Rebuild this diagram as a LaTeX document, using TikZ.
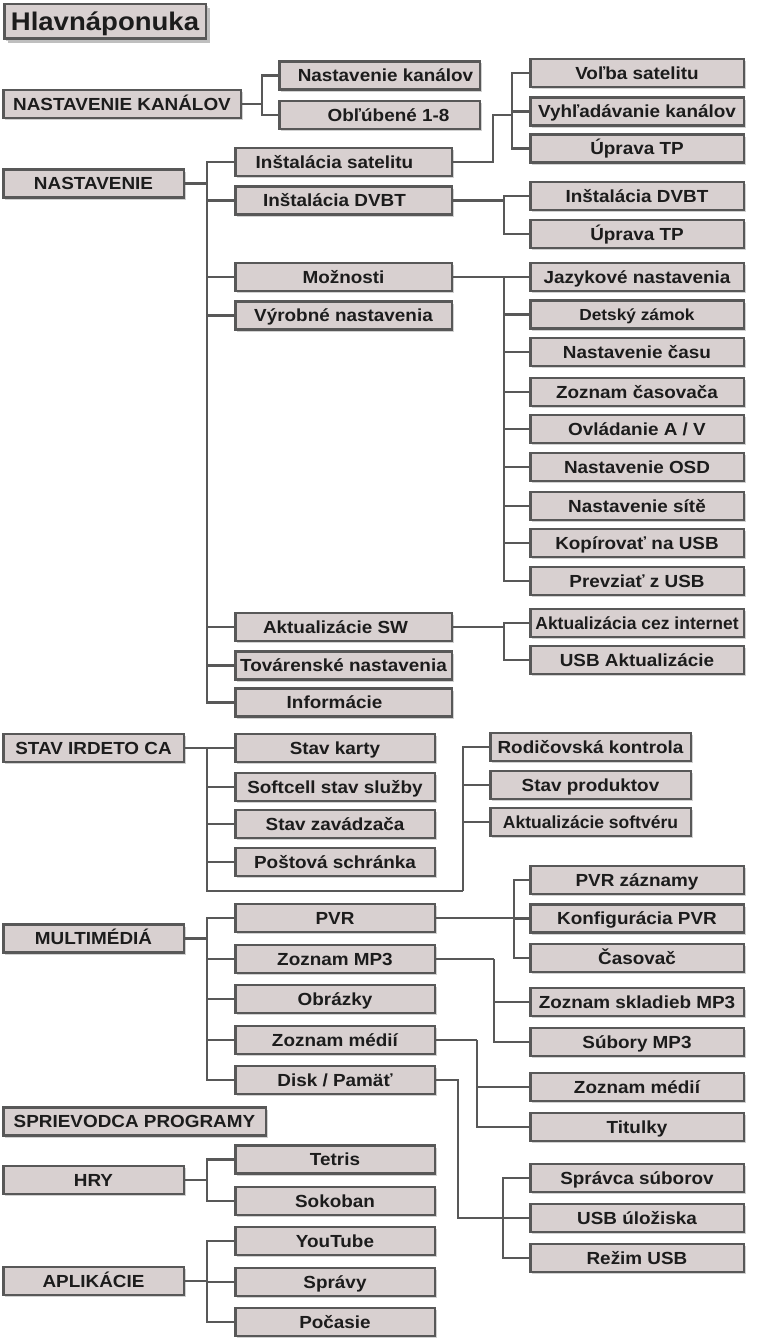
\documentclass[tikz,border=0pt]{standalone}
\usepackage{fontspec}
\setmainfont{Liberation Sans}[FakeStretch=1.08]
\newfontfamily\tightfont{Liberation Sans}
\usetikzlibrary{shadows}
\definecolor{boxfill}{RGB}{216,208,208}
\definecolor{boxline}{RGB}{88,88,88}
\definecolor{boxtext}{RGB}{28,28,28}
\newcommand{\nudge}[2]{\hspace*{#1}#2}
\tikzset{
  menu/.style={draw=boxline, line width=2.5pt, fill=boxfill, text=boxtext,
    font=\fontsize{17.5}{20}\selectfont\bfseries, minimum height=28pt,
    inner sep=0pt, text height=12.5pt, text depth=0pt,
    general shadow={fill=black!18, shadow xshift=2pt, shadow yshift=-2pt}},
  title/.style={menu, minimum width=201.5pt, minimum height=34.5pt,
    font=\fontsize{25.5}{30}\selectfont\bfseries, text height=18.3pt, text depth=0pt,
    general shadow={fill=black!25, shadow xshift=4pt, shadow yshift=-4pt}},
  lbox/.style={menu, minimum width=180.5pt},
  nkbox/.style={menu, minimum width=237.5pt},
  spbox/.style={menu, minimum width=262.5pt},
  kbox/.style={menu, minimum width=200.5pt},
  wbox/.style={menu, minimum width=216.5pt},
  mbox/.style={menu, minimum width=199.5pt},
  rbox/.style={menu, minimum width=213.5pt},
  cbox/.style={menu, minimum width=200.5pt},
  link/.style={draw=boxline, line width=2.5pt}
}
\begin{document}
\begin{tikzpicture}[x=1pt,y=-1pt]
  \useasboundingbox (0,0) rectangle (770,1338);

  \node[title] (hl) at (105,21.5) {Hlavnáponuka};

  \node[nkbox] (nk) at (122,104) {NASTAVENIE KANÁLOV};
  \node[kbox] (nk1) at (379.5,75.5) {\nudge{12pt}{Nastavenie kanálov}};
  \node[kbox] (nk2) at (379.5,115) {\nudge{18pt}{Obľúbené 1-8}};

  \node[lbox] (nas) at (93.5,183.5) {NASTAVENIE};
  \node[wbox] (sat) at (343.5,162) {\nudge{-18pt}{Inštalácia satelitu}};
  \node[wbox] (dvbt) at (343.5,200.5) {\nudge{-18pt}{Inštalácia DVBT}};
  \node[wbox] (moz) at (343.5,277) {Možnosti};
  \node[wbox] (vyr) at (343.5,315.5) {Výrobné nastavenia};
  \node[wbox] (akt) at (343.5,627) {\nudge{-16pt}{Aktualizácie SW}};
  \node[wbox] (tov) at (343.5,665.5) {Továrenské nastavenia};
  \node[wbox] (inf) at (343.5,702.5) {\nudge{-18pt}{Informácie}};

  \node[rbox] (vol) at (637,73) {Voľba satelitu};
  \node[rbox] (vyh) at (637,111.5) {Vyhľadávanie kanálov};
  \node[rbox] (upr1) at (637,148.5) {Úprava TP};
  \node[rbox] (dvb2) at (637,196) {Inštalácia DVBT};
  \node[rbox] (upr2) at (637,234) {Úprava TP};
  \node[rbox] (jaz) at (637,277) {Jazykové nastavenia};
  \node[rbox] (det) at (637,314.5) {\fontsize{16}{18}\selectfont Detský zámok};
  \node[rbox] (cas1) at (637,352) {Nastavenie času};
  \node[rbox] (zcas) at (637,392) {Zoznam časovača};
  \node[rbox] (ovl) at (637,429) {Ovládanie A / V};
  \node[rbox] (osd) at (637,467) {Nastavenie OSD};
  \node[rbox] (site) at (637,506) {Nastavenie sítě};
  \node[rbox] (kop) at (637,543) {Kopírovať na USB};
  \node[rbox] (prev) at (637,581) {Prevziať z USB};
  \node[rbox] (aci) at (637,623) {\tightfont Aktualizácia cez internet};
  \node[rbox] (usba) at (637,660) {USB Aktualizácie};

  \node[lbox] (stav) at (93.5,748) {STAV IRDETO CA};
  \node[mbox] (karty) at (335,748) {Stav karty};
  \node[mbox] (soft) at (335,787) {Softcell stav služby};
  \node[mbox] (zav) at (335,824) {Stav zavádzača};
  \node[mbox] (post) at (335,862) {Poštová schránka};
  \node[cbox] (rod) at (590.5,747) {Rodičovská kontrola};
  \node[cbox] (prod) at (590.5,785) {Stav produktov};
  \node[cbox] (aks) at (590.5,822) {\tightfont Aktualizácie softvéru};

  \node[lbox] (mm) at (93.5,938.5) {MULTIMÉDIÁ};
  \node[mbox] (pvr) at (335,918) {PVR};
  \node[mbox] (mp3) at (335,959) {Zoznam MP3};
  \node[mbox] (obr) at (335,999) {Obrázky};
  \node[mbox] (med) at (335,1040) {Zoznam médií};
  \node[mbox] (disk) at (335,1080) {Disk / Pamäť};
  \node[rbox] (pvrz) at (637,880) {PVR záznamy};
  \node[rbox] (konf) at (637,918.5) {Konfigurácia PVR};
  \node[rbox] (cas2) at (637,958) {Časovač};
  \node[rbox] (zsk) at (637,1002) {Zoznam skladieb MP3};
  \node[rbox] (sub) at (637,1042) {Súbory MP3};
  \node[rbox] (med2) at (637,1087) {Zoznam médií};
  \node[rbox] (tit) at (637,1127) {Titulky};
  \node[rbox] (spr) at (637,1178) {Správca súborov};
  \node[rbox] (usbu) at (637,1218) {USB úložiska};
  \node[rbox] (rez) at (637,1258) {Režim USB};

  \node[spbox] (sp) at (134.5,1121.5) {SPRIEVODCA PROGRAMY};

  \node[lbox] (hry) at (93.5,1180) {HRY};
  \node[mbox] (tet) at (335,1159.5) {Tetris};
  \node[mbox] (sok) at (335,1201) {Sokoban};

  \node[lbox] (apl) at (93.5,1281) {APLIKÁCIE};
  \node[mbox] (yt) at (335,1241) {YouTube};
  \node[mbox] (spv) at (335,1282) {Správy};
  \node[mbox] (poc) at (335,1322) {Počasie};

  \draw[link] (nk.east) -- ++(20,0) coordinate (v0);
  \foreach \n in {nk1,nk2} \draw[link] (v0) |- (\n);

  \draw[link] (nas.east) -- ++(22,0) coordinate (v1);
  \foreach \n in {sat,dvbt,moz,vyr,akt,tov,inf} \draw[link] (v1) |- (\n);
  \draw[link] (sat.east) -- ++(40,0) |- (512,115) coordinate (v2);
  \foreach \n in {vol,vyh,upr1} \draw[link] (v2) |- (\n);
  \draw[link] (dvbt.east) -- ++(51,0) coordinate (v3);
  \foreach \n in {dvb2,upr2} \draw[link] (v3) |- (\n);
  \draw[link] (moz.east) -- ++(51,0) coordinate (v4);
  \foreach \n in {jaz,det,cas1,zcas,ovl,osd,site,kop,prev} \draw[link] (v4) |- (\n);
  \draw[link] (akt.east) -- ++(51,0) coordinate (v5);
  \foreach \n in {aci,usba} \draw[link] (v5) |- (\n);

  \draw[link] (stav.east) -- ++(22,0) coordinate (v6);
  \foreach \n in {karty,soft,zav,post} \draw[link] (v6) |- (\n);
  \draw[link] (v6) |- (463,891) coordinate (v7);
  \foreach \n in {rod,prod,aks} \draw[link] (v7) |- (\n);

  \draw[link] (mm.east) -- ++(22,0) coordinate (v8);
  \foreach \n in {pvr,mp3,obr,med,disk} \draw[link] (v8) |- (\n);
  \draw[link] (pvr.east) -- ++(78,0) coordinate (v9);
  \foreach \n in {pvrz,konf,cas2} \draw[link] (v9) |- (\n);
  \draw[link] (mp3.east) -- ++(58,0) coordinate (v10);
  \foreach \n in {zsk,sub} \draw[link] (v10) |- (\n);
  \draw[link] (med.east) -- ++(41,0) coordinate (v11);
  \foreach \n in {med2,tit} \draw[link] (v11) |- (\n);
  \draw[link] (disk.east) -- ++(22,0) |- (usbu);
  \coordinate (v12) at (503,1218);
  \foreach \n in {spr,usbu,rez} \draw[link] (v12) |- (\n);

  \draw[link] (hry.east) -- ++(22,0) coordinate (v13);
  \foreach \n in {tet,sok} \draw[link] (v13) |- (\n);

  \draw[link] (apl.east) -- ++(22,0) coordinate (v14);
  \foreach \n in {yt,spv,poc} \draw[link] (v14) |- (\n);
\end{tikzpicture}
\end{document}
